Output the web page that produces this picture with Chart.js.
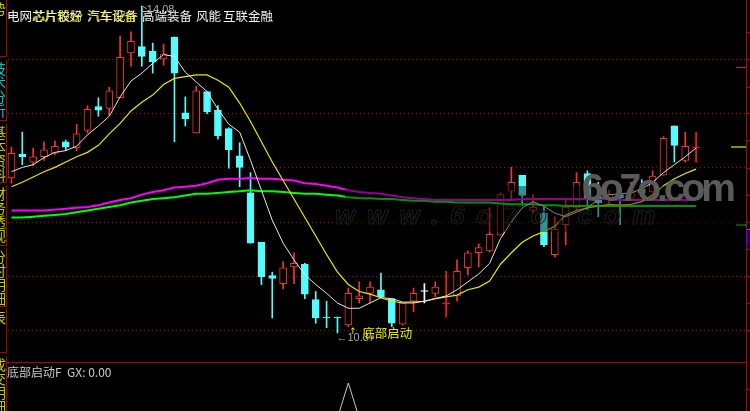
<!DOCTYPE html>
<html lang="zh">
  <head>
    <meta charset="UTF-8">
    <title>底部启动</title>
    <style>
      body { margin: 0; background: #000; width: 750px; height: 411px; overflow: hidden; position: relative; font-family: "Noto Sans CJK SC", sans-serif; }
      canvas { position: absolute; left: 0; }
      #main { top: 0; }
      #sub { top: 363px; }
      .abs { position: absolute; white-space: nowrap; line-height: 1; }
      .title { top: 10px; font-size: 12.5px; color: #f0f0f0; }
      .yel { color: #ffff00; }
      .tab { position: absolute; left: 0; width: 6px; overflow: hidden; border-right: 1px solid #b00000; border-bottom: 1px solid #b00000; }
      .tab span { position: absolute; left: -8px; top: 2px; writing-mode: vertical-rl; font-size: 14px; line-height: 14px; }
    </style>
  </head>
  <body>

    <canvas id="main" width="750" height="362"></canvas>
    <canvas id="sub" width="750" height="48"></canvas>

    <!-- side tabs, only the right edge shows -->
    <div class="tab" style="top:0;height:56px"><span style="color:#c8c800">分时走势</span></div>
    <div class="tab" style="top:60px;height:60px"><span style="color:#00c8c8">技术分析</span></div>
    <div class="tab" style="top:124px;height:58px"><span style="color:#c8c800">基本资料</span></div>
    <div class="tab" style="top:185px;height:60px"><span style="color:#c8c800">财务透视</span></div>
    <div class="tab" style="top:248px;height:58px"><span style="color:#c8c800">分时明细</span></div>
    <div class="tab" style="top:309px;height:43px"><span style="color:#c8c800">分价表</span></div>
    <div class="tab" style="top:356px;height:60px"><span style="color:#c8c800">成交明细</span></div>

    <!-- frame -->
    <div class="abs" style="left:7px;top:362px;width:740px;height:1px;background:#b00000"></div>
    <div class="abs" style="left:746px;top:0;width:1px;height:411px;background:#c00000"></div>
    <div id="ticks"></div>
    <div class="abs" style="left:747px;top:229px;width:3px;height:16px;background:#0000c0;border-top:1px solid #4060ff"></div>
    <div class="abs" style="left:736px;top:67px;width:10px;height:1px;background:#d02020"></div>
    <div class="abs" style="left:731px;top:146px;width:15px;height:2px;background:#8a8a00"></div>
    <div class="abs" style="left:736px;top:224px;width:10px;height:2px;background:#108010"></div>

    <!-- watermark -->
    <div class="abs" style="left:345px;top:186px;width:400px;height:46px;background:rgba(0,0,0,0.42)"></div>
    <div class="abs" style="left:335px;top:200px;font:italic bold 26px 'Liberation Sans';letter-spacing:12px;color:transparent;-webkit-text-stroke:1px #1e1e1e">www.6o7o.com</div>
    <div class="abs" style="left:582px;top:168px;font:bold 39px 'Liberation Sans';line-height:40px;letter-spacing:-4px;color:#5a5a5a">6o7o.com</div>

    <!-- title line -->
    <span class="abs title" style="left:7px">电网</span>
    <span class="abs title yel" style="left:32px">芯片较好</span>
    <span class="abs title" style="left:33px;opacity:0.8">芯片股份</span>
    <span class="abs title yel" style="left:87px">汽车设备</span>
    <span class="abs title" style="left:88px;opacity:0.7">汽车配件</span>
    <span class="abs title" style="left:142px">高端装备</span>
    <span class="abs title" style="left:196px">风能</span>
    <span class="abs title" style="left:223px">互联金融</span>

    <span class="abs" style="left:7px;top:366px;font-size:12px;color:#c8c8c8">底部启动F&nbsp; GX: 0.00</span>

    <script src="https://cdn.jsdelivr.net/npm/chart.js"></script>

    <script>
      // 68 slots on the time axis, 64 trading days drawn
      const days = Array.from({length: 68}, (_, i) => String(i + 1));

      const open = [12.13,12.40,12.31,12.37,12.41,12.54,12.47,12.67,12.94,12.92,
        13.04,13.55,13.62,13.57,13.48,13.73,12.87,12.64,13.11,12.90,
        12.69,12.38,11.96,11.40,11.02,10.93,11.12,11.15,10.75,10.55,
        10.55,10.46,10.76,10.82,10.86,10.76,10.47,10.73,10.84,10.82,
        10.70,10.79,11.11,11.28,11.30,11.48,11.98,12.16,11.76,11.73,
        11.26,11.60,11.79,12.18,11.91,11.88,11.94,11.90,12.00,11.97,
        12.16,12.72,12.33,12.47];
      const high = [12.48,12.65,12.47,12.54,12.55,12.56,12.74,12.95,13.04,13.16,
        13.74,13.79,14.08,13.66,13.65,13.73,13.05,13.17,13.11,12.95,
        12.70,12.53,12.19,11.40,11.06,11.18,11.28,11.16,10.84,10.73,
        10.55,10.88,10.95,10.95,11.05,10.76,10.71,10.88,10.93,10.95,
        11.07,11.20,11.30,11.38,11.79,11.96,12.25,12.16,11.94,11.82,
        11.69,11.88,12.19,12.21,12.08,11.99,12.05,12.08,12.11,12.21,
        12.60,12.72,12.65,12.65];
      const low = [12.07,12.28,12.27,12.33,12.39,12.44,12.44,12.64,12.83,12.84,
        13.04,13.40,13.40,13.32,13.41,12.54,12.72,12.64,12.86,12.57,
        12.24,12.03,11.39,10.92,10.54,10.87,10.93,10.76,10.48,10.43,
        10.37,10.44,10.71,10.71,10.77,10.44,10.46,10.61,10.71,10.78,
        10.55,10.73,11.03,11.12,11.29,11.48,11.88,11.82,11.73,11.35,
        11.23,11.37,11.77,11.77,11.69,11.82,11.60,11.88,11.91,11.96,
        12.16,12.31,12.31,12.31];
      const close = [12.41,12.37,12.37,12.45,12.49,12.48,12.63,12.91,12.90,13.12,
        13.50,13.68,13.51,13.45,13.54,13.32,12.80,13.12,12.88,12.61,
        12.45,12.25,11.39,11.01,10.99,11.11,11.16,10.81,10.54,10.54,
        10.54,10.82,10.79,10.89,10.78,10.48,10.71,10.82,10.84,10.89,
        10.70,11.07,11.28,11.34,11.49,11.94,12.08,11.93,11.80,11.37,
        11.55,11.80,12.08,11.88,11.85,11.94,11.90,11.99,11.96,12.15,
        12.58,12.50,12.49,12.47];

      const ma5 = [12.20,12.25,12.28,12.36,12.42,12.44,12.49,12.62,12.72,12.83,
        13.05,13.23,13.32,13.43,13.53,13.51,13.33,13.22,13.11,12.91,
        12.74,12.65,12.33,11.99,11.65,11.39,11.20,11.03,10.92,10.82,
        10.71,10.65,10.65,10.71,10.77,10.76,10.72,10.72,10.73,10.76,
        10.79,10.86,10.95,11.04,11.16,11.44,11.63,11.79,11.86,11.81,
        11.73,11.69,11.74,11.79,11.89,11.94,11.95,11.96,12.00,12.08,
        12.19,12.28,12.37,12.47];
      const ma10 = [12.03,12.08,12.14,12.20,12.25,12.31,12.37,12.42,12.50,12.63,
        12.75,12.89,12.99,13.07,13.19,13.26,13.28,13.30,13.30,13.24,
        13.16,12.98,12.77,12.54,12.31,12.10,11.89,11.68,11.47,11.26,
        11.06,10.92,10.84,10.81,10.77,10.73,10.71,10.71,10.73,10.76,
        10.78,10.80,10.86,10.89,10.96,11.15,11.28,11.40,11.47,11.52,
        11.58,11.71,11.76,11.79,11.81,11.83,11.82,11.83,11.86,11.94,
        12.04,12.12,12.18,12.23];
      const ma30 = [11.76,11.76,11.76,11.76,11.77,11.78,11.79,11.80,11.82,11.85,
        11.88,11.90,11.94,11.97,11.99,12.02,12.03,12.04,12.07,12.11,
        12.12,12.12,12.13,12.12,12.12,12.11,12.10,12.07,12.06,12.04,
        12.02,11.99,11.97,11.96,11.95,11.93,11.91,11.90,11.89,11.88,
        11.88,11.88,11.88,11.88,11.88,11.88,11.88,11.89,11.89,11.89,
        11.89,11.89,11.89,11.89,11.89,11.89,11.88,11.88,11.88,11.88,
        11.88,11.88,11.88,11.88];
      const ma60 = [11.68,11.68,11.69,11.70,11.71,11.72,11.74,11.76,11.78,11.80,
        11.82,11.85,11.87,11.89,11.90,11.91,11.93,11.95,11.95,11.96,
        11.97,11.98,11.99,11.98,11.98,11.97,11.96,11.95,11.95,11.94,
        11.93,11.91,11.90,11.90,11.89,11.89,11.88,11.87,11.87,11.86,
        11.86,11.85,11.85,11.85,11.85,11.84,11.83,11.83,11.83,11.82,
        11.82,11.81,11.81,11.81,11.81,11.81,11.81,11.81,11.81,11.81,
        11.81,11.81,11.81,11.81];

      // signal line of the lower panel
      const gx = [0,0,0,0,0,0,0,0,0,0, 0,0,0,0,0,0,0,0,0,0,
        0,0,0,0,0,0,0,0,0,0, 0,1,0,0,0,0,0,0,0,0,
        0,0,0,0,0,0,0,0,0,0, 0,0,0,0,0,0,0,0,0,0,
        0,0,0,0];

      // dotted grid levels
      const gridPrices = [13.48, 12.87, 12.25, 11.63, 11.02, 10.40];

      const RED = '#f03434', CYAN = '#54fcfc';
      const color = i => close[i] > open[i] ? RED : close[i] < open[i] ? CYAN : (i === 38 ? '#ffffff' : '#ff1818');
      const fill = i => close[i] > open[i] ? '#000000' : color(i);

      const gridPlugin = {
        id: 'grid',
        beforeDatasetsDraw(chart) {
          const {ctx, chartArea, scales: {y}} = chart;
          ctx.save();
          ctx.strokeStyle = '#b40000';
          ctx.lineWidth = 1;
          ctx.setLineDash([1, 3]);
          gridPrices.forEach(v => {
            const py = Math.round(y.getPixelForValue(v)) + 0.5;
            ctx.beginPath();
            ctx.moveTo(chartArea.left + 2, py);
            ctx.lineTo(chartArea.right, py);
            ctx.stroke();
          });
          ctx.restore();
        },
        afterDatasetsDraw(chart) {
          const {ctx, scales: {x, y}} = chart;
          ctx.save();
          ctx.font = '11px "Liberation Sans"';
          ctx.fillStyle = '#a8a8a8';
          ctx.strokeStyle = '#a8a8a8';
          // highest price
          const hx = x.getPixelForValue(12), hy = y.getPixelForValue(high[12]);
          ctx.beginPath();
          ctx.moveTo(hx + 1, hy); ctx.lineTo(hx + 5, hy + 3);
          ctx.stroke();
          ctx.fillText(high[12].toFixed(2), hx + 5, hy + 7);
          // lowest price
          const lx = x.getPixelForValue(30), ly = y.getPixelForValue(low[30]);
          ctx.fillText('←' + low[30].toFixed(2), lx - 1, ly + 8);
          // buy signal
          const sx = x.getPixelForValue(31), sy = y.getPixelForValue(low[31]);
          ctx.fillStyle = '#e8e800';
          ctx.font = '9px "DejaVu Sans"';
          ctx.fillText('↑', sx + 1, sy + 7);
          ctx.font = '12.5px "Noto Sans CJK SC"';
          ctx.fillText('底部启动', sx + 14, sy + 11);
          ctx.restore();
        }
      };

      new Chart(document.getElementById('main'), {
        type: 'bar',
        data: {
          labels: days,
          datasets: [
            { type: 'line', data: ma5, borderColor: '#e6e6e6', borderWidth: 1, pointRadius: 0, order: 0 },
            { type: 'line', data: ma10, borderColor: '#e8e800', borderWidth: 1.2, pointRadius: 0, order: 0 },
            { type: 'line', data: ma30, borderColor: '#ff00ff', borderWidth: 2, pointRadius: 0, order: 0 },
            { type: 'line', data: ma60, borderColor: '#00ff00', borderWidth: 2, pointRadius: 0, order: 0 },
            {
              data: open.map((o, i) => [o, close[i]]),
              backgroundColor: open.map((_, i) => fill(i)),
              borderColor: open.map((_, i) => color(i)),
              borderWidth: 1, borderSkipped: false, minBarLength: 1,
              barThickness: 7, grouped: false, order: 1
            },
            {
              data: low.map((l, i) => [l, high[i]]),
              backgroundColor: low.map((_, i) => color(i)),
              borderWidth: 0, barThickness: 1, grouped: false, order: 2
            }
          ]
        },
        options: {
          responsive: false,
          animation: false,
          devicePixelRatio: 1,
          layout: { padding: { left: 6, right: 5, top: 0, bottom: 0 } },
          plugins: { legend: { display: false }, tooltip: { enabled: false } },
          elements: { line: { tension: 0 } },
          scales: {
            x: { display: false, offset: true },
            y: { display: false, min: 10.04, max: 14.15 }
          }
        },
        plugins: [gridPlugin]
      });

      new Chart(document.getElementById('sub'), {
        type: 'line',
        data: {
          labels: days,
          datasets: [{ data: gx, borderColor: '#c8c8c8', borderWidth: 1, pointRadius: 0, tension: 0 }]
        },
        options: {
          responsive: false,
          animation: false,
          devicePixelRatio: 1,
          layout: { padding: { left: 6, right: 5, top: 0, bottom: 0 } },
          plugins: { legend: { display: false }, tooltip: { enabled: false } },
          scales: {
            x: { display: false, offset: true },
            y: { display: false, min: 0.2, max: 1.57 }
          }
        }
      });

      // right axis tick marks
      const ticks = document.getElementById('ticks');
      [32, 59, 87, 113, 140, 168, 195, 222, 249, 276, 303, 330, 389].forEach(t => {
        const d = document.createElement('div');
        d.className = 'abs';
        d.style.cssText = `left:747px;top:${t}px;width:4px;height:1px;background:#c00000`;
        ticks.appendChild(d);
      });
    </script>
  </body>
</html>
